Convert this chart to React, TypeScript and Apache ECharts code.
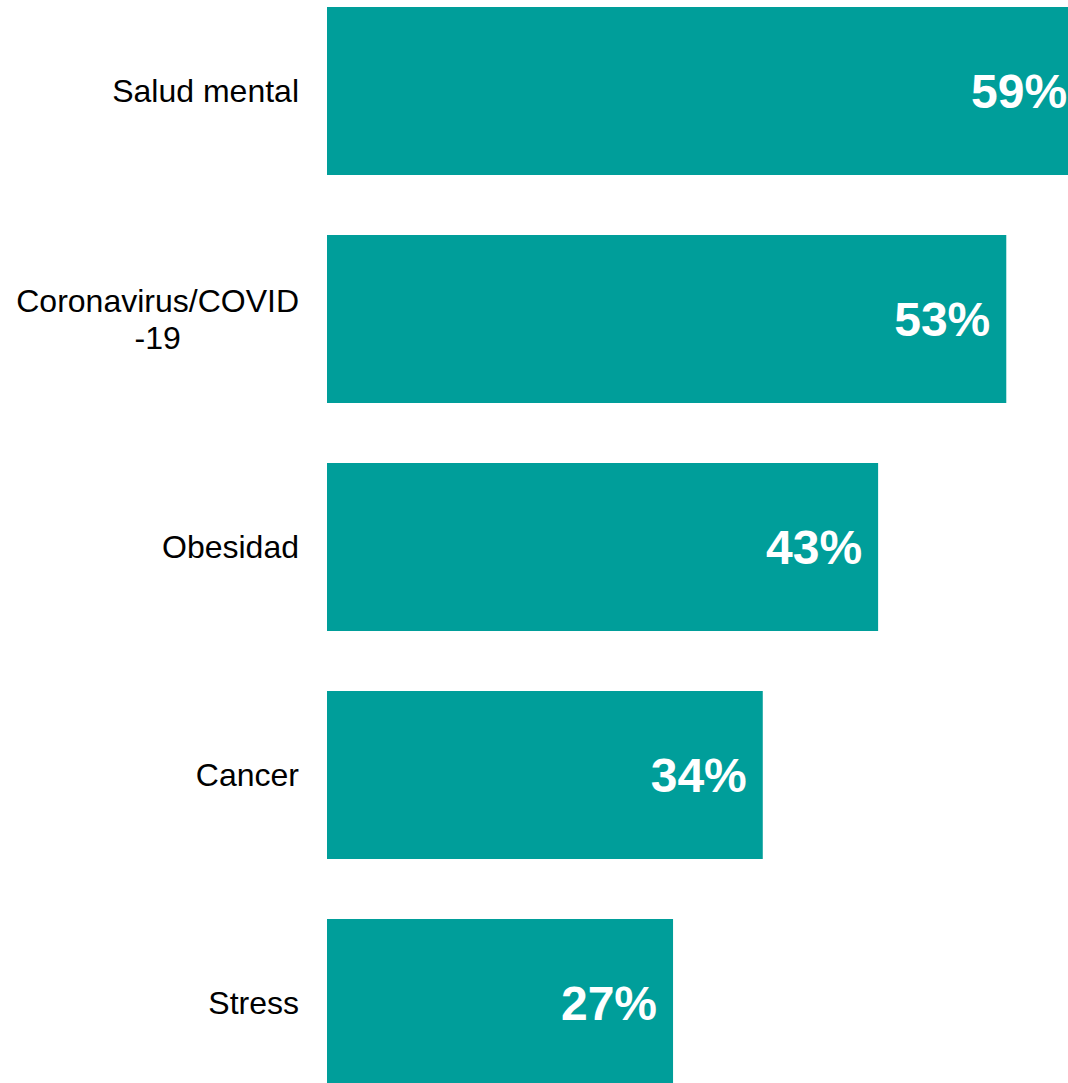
import React, { useEffect, useRef } from "react";
import * as echarts from "echarts";

const categories = ["Salud mental", "Coronavirus/COVID\n-19", "Obesidad", "Cancer", "Stress"];
const values = [59, 53, 43, 34, 27];

export default function App() {
  const ref = useRef<HTMLDivElement>(null);
  useEffect(() => {
    document.body.style.margin = "0";
    document.body.style.overflow = "hidden";
    document.documentElement.style.overflow = "hidden";
    const chart = echarts.init(ref.current!, null, { renderer: "svg" });
    chart.setOption({
      animation: false,
      grid: { left: 327, top: 0, width: 769, height: 1140, containLabel: false },
      xAxis: { type: "value", min: 0, max: 60, show: false },
      yAxis: {
        type: "category",
        inverse: true,
        data: categories,
        axisLine: { show: false },
        axisTick: { show: false },
        splitLine: { show: false },
        axisLabel: {
          margin: 28,
          fontFamily: "Liberation Sans, Arial, sans-serif",
          fontSize: 32,
          color: "#000000",
          formatter: (v: string) => v.split("\n").map((l) => `{c|${l}}`).join("\n"),
          rich: {
            c: {
              fontFamily: "Liberation Sans, Arial, sans-serif",
              fontSize: 32,
              color: "#000000",
              align: "center",
              lineHeight: 37,
            },
          },
        },
      },
      series: [
        {
          type: "bar",
          data: values,
          barWidth: 168,
          itemStyle: { color: "#009E9A" },
          label: {
            show: true,
            position: "insideRight",
            distance: 16,
            formatter: "{c}%",
            color: "#ffffff",
            fontFamily: "Liberation Sans, Arial, sans-serif",
            fontWeight: "bold",
            fontSize: 48,
          },
        },
      ],
    });
    return () => chart.dispose();
  }, []);
  return (
    <div style={{ position: "relative", width: 1068, height: 1083, overflow: "hidden", background: "#ffffff" }}>
      <div ref={ref} style={{ position: "absolute", left: 0, top: -23, width: 1100, height: 1141 }} />
    </div>
  );
}
